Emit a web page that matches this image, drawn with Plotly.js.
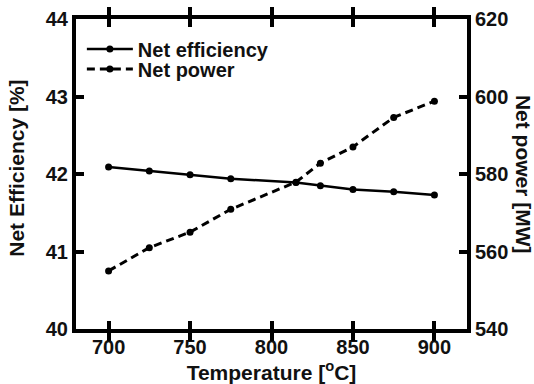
<!DOCTYPE html>
<html>
<head>
<meta charset="utf-8">
<script src="https://cdn.plot.ly/plotly-3.0.1.min.js"></script>
<style>
html,body{margin:0;padding:0;background:#fff;}
#chart{width:534px;height:384px;}
</style>
</head>
<body>
<div id="chart"></div>
<script>
var temperature = [700, 725, 750, 775, 815, 830, 850, 875, 900];
var netEfficiency = [42.09, 42.04, 41.99, 41.94, 41.89, 41.85, 41.80, 41.77, 41.73];
var netPower = [555.0, 561.0, 565.0, 570.9, 577.9, 582.8, 587.0, 594.6, 598.8];
var xTicks = [700, 750, 800, 850, 900];
var yTicks = [40, 41, 42, 43, 44];
var y2Ticks = [540, 560, 580, 600, 620];

var FONT = 'Liberation Sans, Arial, sans-serif';

var traces = [
  {
    x: temperature, y: netEfficiency, name: 'Net efficiency',
    type: 'scatter', mode: 'lines+markers',
    line: {color: '#000', width: 2.5},
    marker: {color: '#000', size: 7, symbol: 'circle'},
    yaxis: 'y', legend: 'legend'
  },
  {
    x: temperature, y: netPower, name: 'Net power',
    type: 'scatter', mode: 'lines+markers',
    line: {color: '#000', width: 3, dash: '8px,5px'},
    marker: {color: '#000', size: 7, symbol: 'circle'},
    yaxis: 'y2', legend: 'legend2'
  }
];

var tickFont = {family: FONT, size: 20, color: '#111', weight: 'bold'};
var titleFont = {family: FONT, size: 21, color: '#111', weight: 'bold'};
var legendFont = {family: FONT, size: 20, color: '#111', weight: 'bold'};

var layout = {
  width: 534, height: 384,
  margin: {l: 76, r: 67, t: 19, b: 55, pad: 0},
  paper_bgcolor: '#fff', plot_bgcolor: '#fff',
  showlegend: true,
  legend: {
    x: 0.015, y: 0.903, xanchor: 'left', yanchor: 'middle',
    font: legendFont, bgcolor: 'rgba(0,0,0,0)', itemwidth: 46
  },
  legend2: {
    x: 0.015, y: 0.839, xanchor: 'left', yanchor: 'middle',
    font: legendFont, bgcolor: 'rgba(0,0,0,0)', itemwidth: 46
  },
  xaxis: {
    range: [680, 920], tickvals: xTicks, ticktext: xTicks.map(String),
    ticks: 'inside', ticklen: 8, tickwidth: 4, tickcolor: '#000',
    showline: true, linewidth: 4, linecolor: '#000', mirror: 'allticks',
    showgrid: false, zeroline: false, ticklabelstandoff: -3,
    tickfont: tickFont,
    title: {text: 'Temperature [<sup>o</sup>C]', font: titleFont, standoff: 2}
  },
  yaxis: {
    range: [40, 44], tickvals: yTicks, ticktext: yTicks.map(String),
    ticks: 'inside', ticklen: 8, tickwidth: 4, tickcolor: '#000',
    showline: true, linewidth: 4, linecolor: '#000',
    showgrid: false, zeroline: false,
    tickfont: tickFont
  },
  yaxis2: {
    range: [540, 620], tickvals: y2Ticks, ticktext: y2Ticks.map(String),
    overlaying: 'y', side: 'right',
    ticks: 'inside', ticklen: 8, tickwidth: 4, tickcolor: '#000',
    showline: true, linewidth: 4, linecolor: '#000',
    showgrid: false, zeroline: false,
    tickfont: tickFont
  },
  annotations: [
    {
      text: 'Net Efficiency [%]', textangle: -90,
      xref: 'paper', yref: 'paper', x: -0.151, y: 0.52,
      xanchor: 'center', yanchor: 'middle', showarrow: false,
      font: titleFont
    },
    {
      text: 'Net power [MW]', textangle: 90,
      xref: 'paper', yref: 'paper', x: 1.146, y: 0.5,
      xanchor: 'center', yanchor: 'middle', showarrow: false,
      font: titleFont
    }
  ]
};

Plotly.newPlot('chart', traces, layout, {displayModeBar: false, staticPlot: true});
</script>
</body>
</html>
